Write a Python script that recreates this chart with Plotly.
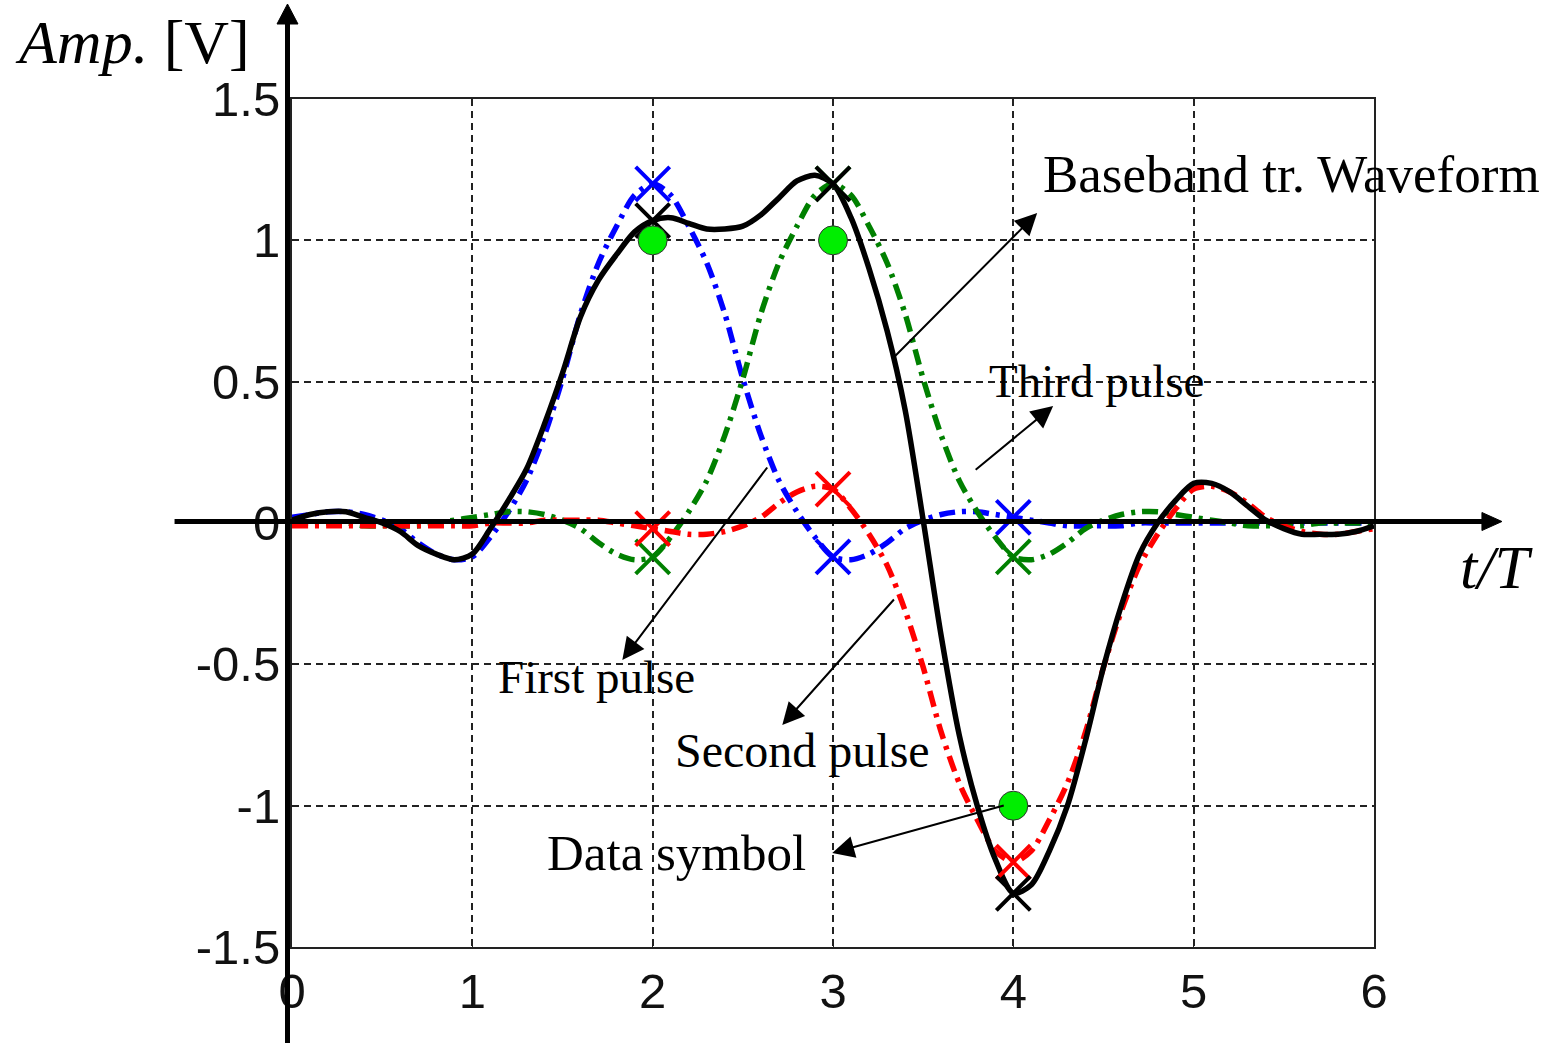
import plotly.graph_objects as go

# ---------------- data ----------------
t = [0.0, 0.1, 0.2, 0.3, 0.4, 0.5, 0.6, 0.7, 0.8, 0.9,
     1.0, 1.1, 1.2, 1.3, 1.4, 1.5, 1.6, 1.7, 1.8, 1.9,
     2.0, 2.1, 2.2, 2.3, 2.4, 2.5, 2.6, 2.7, 2.8, 2.9,
     3.0, 3.1, 3.2, 3.3, 3.4, 3.5, 3.6, 3.7, 3.8, 3.9,
     4.0, 4.1, 4.2, 4.3, 4.4, 4.5, 4.6, 4.7, 4.8, 4.9,
     5.0, 5.1, 5.2, 5.3, 5.4, 5.5, 5.6, 5.7, 5.8, 5.9, 6.0]

first_pulse = [0.02, 0.03, 0.04, 0.04, 0.03, 0.01, -0.02, -0.07, -0.11, -0.13,
               -0.12, -0.05, 0.04, 0.15, 0.31, 0.51, 0.74, 0.92, 1.05, 1.16,
               1.20, 1.16, 1.05, 0.92, 0.74, 0.51, 0.31, 0.15, 0.04, -0.05,
               -0.12, -0.13, -0.11, -0.07, -0.02, 0.01, 0.03, 0.04, 0.04, 0.03,
               0.02, 0.01, 0.00, -0.01, -0.01, -0.01, -0.01, 0.00, 0.00, 0.00,
               0.00, 0.00, 0.00, 0.00, 0.00, 0.00, 0.00, 0.00, 0.00, 0.00, 0.00]

third_pulse = [0.00, 0.00, 0.00, 0.00, -0.01, -0.01, -0.01, -0.01, 0.00, 0.01,
               0.02, 0.03, 0.04, 0.04, 0.03, 0.01, -0.02, -0.07, -0.11, -0.13,
               -0.12, -0.05, 0.04, 0.15, 0.31, 0.51, 0.74, 0.92, 1.05, 1.16,
               1.20, 1.16, 1.05, 0.92, 0.74, 0.51, 0.31, 0.15, 0.04, -0.05,
               -0.12, -0.13, -0.11, -0.07, -0.02, 0.01, 0.03, 0.04, 0.04, 0.03,
               0.02, 0.01, 0.00, -0.01, -0.01, -0.01, -0.01, 0.00, 0.00, 0.00, 0.00]

second_pulse = [-0.01, -0.01, -0.01, -0.01, -0.01, -0.01, -0.01, -0.01, -0.01, -0.01,
                -0.01, 0.00, 0.00, 0.00, 0.01, 0.01, 0.01, 0.01, 0.00, -0.01,
                -0.02, -0.03, -0.04, -0.04, -0.03, -0.01, 0.02, 0.07, 0.11, 0.13,
                0.12, 0.05, -0.04, -0.15, -0.31, -0.51, -0.74, -0.92, -1.05, -1.16,
                -1.20, -1.16, -1.05, -0.92, -0.74, -0.51, -0.31, -0.15, -0.04, 0.05,
                0.12, 0.13, 0.11, 0.07, 0.02, -0.01, -0.03, -0.04, -0.04, -0.03, -0.02]

baseband = [0.01, 0.03, 0.04, 0.04, 0.02, 0.00, -0.03, -0.08, -0.11, -0.13,
            -0.11, -0.02, 0.08, 0.19, 0.35, 0.53, 0.73, 0.86, 0.95, 1.03,
            1.07, 1.08, 1.06, 1.04, 1.04, 1.05, 1.09, 1.15, 1.21, 1.23,
            1.20, 1.08, 0.90, 0.68, 0.40, 0.01, -0.40, -0.75, -1.00, -1.19,
            -1.31, -1.28, -1.16, -1.00, -0.77, -0.51, -0.29, -0.11, 0.00, 0.08,
            0.14, 0.14, 0.11, 0.06, 0.01, -0.02, -0.04, -0.04, -0.04, -0.03, -0.01]

symbol_times = [2.0, 3.0, 4.0]
data_symbols = [1, 1, -1]

x_tick_vals = [0, 1, 2, 3, 4, 5, 6]
x_tick_text = ["0", "1", "2", "3", "4", "5", "6"]
y_tick_vals = [1.5, 1.0, 0.5, 0.0, -0.5, -1.0, -1.5]
y_tick_text = ["1.5", "1", "0.5", "0", "-0.5", "-1", "-1.5"]

# ---------------- layout geometry (screen pixels) ----------------
W, H = 1550, 1043
L, R, T, B = 291.5, 1374, 99, 947   # plot area on the screen


def PX(px):
    return (px - L) / (R - L)


def PY(py):
    return (B - py) / (B - T)


SERIF = "Liberation Serif, Times New Roman, serif"
SANS = "Liberation Sans, Arial, sans-serif"
DASHDOT = "16px,7px,4px,7px"

fig = go.Figure()

series = [
    (first_pulse, "#0000ff", DASHDOT),
    (third_pulse, "#008000", DASHDOT),
    (second_pulse, "#ff0000", DASHDOT),
    (baseband, "#000000", "solid"),
]

for ys, col, dash in series:
    fig.add_trace(go.Scatter(x=t, y=ys, mode="lines",
                             line=dict(color=col, width=5.5, dash=dash,
                                       shape="spline", smoothing=0.8),
                             hoverinfo="skip", showlegend=False))

for ys, col, dash in series:
    idx = [t.index(s) for s in symbol_times]
    fig.add_trace(go.Scatter(x=symbol_times, y=[ys[i] for i in idx], mode="markers",
                             marker=dict(symbol="x-thin", size=34,
                                         line=dict(color=col, width=4)),
                             hoverinfo="skip", showlegend=False))

fig.add_trace(go.Scatter(x=symbol_times, y=data_symbols, mode="markers",
                         marker=dict(symbol="circle", size=29, color="#00ee00",
                                     line=dict(color="#333333", width=1)),
                         hoverinfo="skip", showlegend=False))

axis_common = dict(showline=True, linecolor="#222222", linewidth=2, mirror=True,
                   showgrid=True, gridcolor="#222222", gridwidth=1.6, griddash="7px,5px",
                   zeroline=False, ticks="inside", ticklen=7, tickcolor="#222222",
                   automargin=False,
                   tickfont=dict(family=SANS, size=49, color="#111111"))

fig.update_layout(
    width=W, height=H,
    margin=dict(l=L, r=W - R, t=T, b=H - B, pad=0, autoexpand=False),
    paper_bgcolor="white", plot_bgcolor="white",
    xaxis=dict(range=[0, 6], tickvals=x_tick_vals, ticktext=x_tick_text,
               ticklabelstandoff=0, **axis_common),
    yaxis=dict(range=[-1.5, 1.5], tickvals=y_tick_vals, ticktext=y_tick_text,
               ticklabelstandoff=0, **axis_common),
)

# thick axis arrows (decorations)
zero_py = 521.5
fig.add_shape(type="line", xref="paper", yref="paper", layer="above",
              x0=PX(174), x1=PX(1486), y0=PY(zero_py), y1=PY(zero_py),
              line=dict(color="black", width=5))
fig.add_shape(type="path", xref="paper", yref="paper", layer="above",
              path="M {} {} L {} {} L {} {} Z".format(
                  PX(1502), PY(zero_py), PX(1482), PY(zero_py - 9),
                  PX(1482), PY(zero_py + 9)),
              fillcolor="black", line=dict(color="black", width=1))
fig.add_shape(type="line", xref="paper", yref="paper", layer="above",
              x0=PX(287), x1=PX(287), y0=PY(1050), y1=PY(20),
              line=dict(color="black", width=5))
fig.add_shape(type="path", xref="paper", yref="paper", layer="above",
              path="M {} {} L {} {} L {} {} Z".format(
                  PX(287), PY(4), PX(276.5), PY(24), PX(297.5), PY(24)),
              fillcolor="black", line=dict(color="black", width=1))

# text labels
texts = [
    ("<i>Amp.</i> [V]", 12, 63, 62),
    ("<i>t/T</i>", 1458, 588, 62),
    ("Baseband tr. Waveform", 1041, 192, 53),
    ("Third pulse", 987, 397, 47),
    ("First pulse", 496, 693, 47),
    ("Second pulse", 673, 767, 48),
    ("Data symbol", 545, 870, 51),
]
for txt, lx, base, fs in texts:
    fig.add_annotation(text=txt, xref="paper", yref="paper",
                       x=PX(lx), y=PY(base - 0.335 * fs),
                       xanchor="left", yanchor="middle", showarrow=False,
                       font=dict(family=SERIF, size=fs, color="black"))

# pointer arrows: (head_x, head_y, tail_x, tail_y)
arrows = [
    (1037, 213, 893, 358),
    (1053, 406, 974, 471),
    (622, 660, 768, 466),
    (782, 725, 895, 598),
    (832, 853, 1005, 805),
]
for hx, hy, tx, ty in arrows:
    fig.add_annotation(text="", xref="paper", yref="paper",
                       x=PX(hx), y=PY(hy), ax=tx - hx, ay=ty - hy,
                       showarrow=True, arrowhead=2, arrowsize=2.2,
                       arrowwidth=2, arrowcolor="black", standoff=0)

fig.write_html("out.html",
               config={"displayModeBar": False},
               post_script="document.body.style.margin='0px';"
                           "document.body.style.overflow='hidden';")
